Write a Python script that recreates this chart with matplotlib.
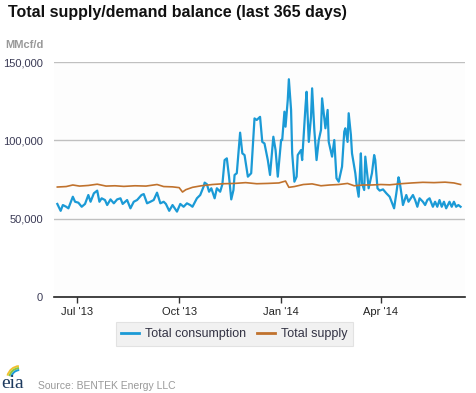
import numpy as np
import matplotlib
matplotlib.use("Agg")
import matplotlib.pyplot as plt
from matplotlib.patches import Arc

plt.rcParams['font.family'] = ['Liberation Sans', 'DejaVu Sans']

# ---- data (MMcf/d), day offsets from 2013-06-13 ----
start_date = np.datetime64('2013-06-13')
cons_days = [0, 3, 5, 8, 10, 14, 16, 19, 22, 25, 28, 30, 33, 36, 38, 40, 43, 45, 48, 51,
             54, 57, 59, 63, 66, 69, 72, 76, 78, 81, 84, 87, 90, 93, 96, 98, 101, 104, 108, 111,
             114, 117, 120, 122, 126, 129, 132, 133, 135, 137, 139, 142, 144, 147, 149, 151, 153, 155, 157, 159,
             160, 162, 165, 167, 169, 172, 175, 178, 180, 183, 185, 187, 190, 192, 195, 197, 199, 202, 203, 205,
             206, 208, 209, 211, 212, 214, 216, 217, 220, 221, 224, 225, 227, 229, 230, 232, 234, 236, 238, 239,
             242, 244, 245, 248, 250, 252, 254, 257, 259, 260, 262, 263, 265, 266, 269, 270, 272, 273, 274, 275,
             277, 278, 280, 281, 284, 286, 287, 289, 291, 294, 297, 300, 304, 306, 308, 309, 311, 312, 315, 317,
             319, 321, 323, 325, 327, 330, 332, 334, 336, 339, 341, 343, 345, 347, 349, 351, 354, 356, 358, 360,
             362, 364]
consumption = [59.4, 55.0, 58.7, 57.6, 56.6, 64.0, 60.8, 60.2, 57.6, 59.4, 65.1, 60.8, 66.2, 67.9, 60.8, 63.0, 61.9, 58.7, 62.3, 59.8,
               62.3, 63.0, 59.4, 61.9, 56.6, 60.8, 61.9, 65.1, 65.7, 59.8, 60.8, 61.9, 66.6, 59.8, 60.8, 59.4, 55.0, 58.7, 54.5, 59.4,
               57.6, 59.8, 58.7, 57.6, 63.0, 65.1, 70.4, 73.0, 72.0, 67.2, 69.4, 63.0, 69.4, 67.2, 72.0, 87.4, 88.5, 76.8, 62.3, 68.3,
               77.9, 79.0, 104.9, 91.7, 90.6, 76.8, 79.0, 114.0, 113.0, 115.0, 99.0, 98.0, 87.4, 77.9, 102.3, 93.8, 76.8, 100.2, 100.2, 118.3,
               108.7, 125.7, 139.0, 119.4, 91.7, 73.6, 76.8, 90.6, 93.8, 87.4, 121.5, 131.0, 99.0, 115.0, 133.2, 106.6, 87.4, 100.2, 106.6, 126.8,
               107.7, 119.4, 99.0, 89.6, 100.2, 75.8, 73.6, 83.2, 105.5, 107.7, 99.0, 117.3, 103.4, 91.7, 79.0, 72.6, 64.0, 76.8, 91.7, 72.6,
               68.3, 89.6, 76.8, 69.4, 79.0, 90.6, 87.4, 69.4, 67.9, 68.7, 66.2, 64.0, 56.6, 66.2, 76.4, 73.6, 64.0, 58.7, 65.1, 60.8,
               63.0, 65.1, 61.9, 57.6, 63.0, 60.8, 58.7, 61.9, 63.0, 57.6, 60.8, 57.6, 61.9, 57.6, 60.8, 56.6, 60.8, 57.6, 60.8, 57.6,
               58.7, 57.6]
supply_days = [0, 8, 14, 20, 28, 36, 44, 52, 60, 70, 80, 90, 96, 104, 110, 113, 116, 122, 130, 140,
               150, 160, 170, 180, 190, 200, 206, 209, 214, 222, 230, 238, 246, 254, 262, 268, 276, 284, 292, 300,
               310, 320, 330, 340, 350, 358, 364]
supply = [70.2, 70.5, 71.5, 70.8, 71.2, 72.0, 70.8, 71.0, 70.6, 71.0, 70.8, 71.8, 70.5, 70.3, 69.8, 67.0, 68.5, 70.0, 71.0, 71.8,
          72.3, 72.5, 73.0, 72.3, 72.5, 72.8, 74.0, 70.0, 70.5, 71.8, 72.2, 71.0, 71.5, 71.8, 72.5, 71.0, 71.5, 71.5, 71.8, 71.6,
          72.3, 72.8, 73.2, 73.0, 73.3, 72.8, 71.8]
tick_dates = ['2013-07-01', '2013-10-01', '2014-01-01', '2014-04-01']
tick_labels = ["Jul '13", "Oct '13", "Jan '14", "Apr '14"]
y_ticks = [0, 50000, 100000, 150000]
y_labels = ['0', '50,000', '100,000', '150,000']

cons_x = start_date + np.array(cons_days).astype('timedelta64[D]')
sup_x = start_date + np.array(supply_days).astype('timedelta64[D]')
cons_y = np.array(consumption) * 1000
sup_y = np.array(supply) * 1000

W, H = 477, 393
fig = plt.figure(figsize=(W / 100, H / 100), dpi=100)
fig.patch.set_facecolor('white')
ax = fig.add_axes([54 / W, 1 - 297 / H, 411 / W, 235 / H])
ax.set_facecolor('#fdfdfd')

blue = '#1b9ad6'
orange = '#c0722d'
l1, = ax.plot(cons_x, cons_y, color=blue, lw=1.6, label='Total consumption', zorder=3)
l2, = ax.plot(sup_x, sup_y, color=orange, lw=1.2, label='Total supply', zorder=4)

ax.set_ylim(0, 150000)
ax.set_xlim(start_date - np.timedelta64(3, 'D'), start_date + np.timedelta64(368, 'D'))
ax.set_yticks(y_ticks)
ax.set_yticklabels(y_labels, color='#3a3a55', fontsize=8)
ax.set_xticks([np.datetime64(d) for d in tick_dates])
ax.set_xticklabels(tick_labels, color='#222222', fontsize=8)
ax.tick_params(axis='y', length=0, pad=8)
ax.tick_params(axis='x', length=4, width=1, color='#333333', pad=3)
for y in y_ticks[1:]:
    ax.axhline(y, color='#c0c0c0', lw=1, zorder=1)
for s in ['top', 'right', 'left']:
    ax.spines[s].set_visible(False)
ax.spines['bottom'].set_color('#222222')
ax.spines['bottom'].set_linewidth(1.2)

fig.text(8 / W, 1 - 12 / H, 'Total supply/demand balance (last 365 days)', fontsize=11.5,
         fontweight='bold', color='#111111', va='center', ha='left')
fig.text(5 / W, 1 - 45 / H, 'MMcf/d', fontsize=8, fontweight='bold', color='#999999',
         va='center', ha='left')

leg = ax.legend(handles=[l1, l2], loc='center', bbox_to_anchor=(234.5 / W, 1 - 334 / H),
                bbox_transform=fig.transFigure, ncol=2, frameon=True, fancybox=False,
                fontsize=9, handlelength=1.4, handletextpad=0.5, columnspacing=0.9,
                borderpad=0.45, labelcolor='#333344')
leg.get_frame().set_facecolor('#eeeeee')
leg.get_frame().set_edgecolor('#dddddd')
leg.get_frame().set_linewidth(0.8)
for line in leg.get_lines():
    line.set_linewidth(2.0)

# footer
fig.text(38 / W, 1 - 386 / H, 'Source: BENTEK Energy LLC', fontsize=7.5, color='#999999',
         va='center', ha='left')
lax = fig.add_axes([0, 0, 36 / W, 36 / H])
lax.set_xlim(0, 36)
lax.set_ylim(0, 36)
lax.axis('off')
lax.text(1.5, 5, 'eia', fontsize=14, color='#1d3a5f', va='baseline', ha='left',
         family=['Liberation Serif', 'DejaVu Serif'])
for r, c in [(13, '#f2c12e'), (11, '#8cc63e'), (9, '#1b9ad6')]:
    lax.add_patch(Arc((20, 14), 2 * r, 2 * r, theta1=95, theta2=165, color=c, lw=1.4))

fig.savefig('out.png', dpi=100)
